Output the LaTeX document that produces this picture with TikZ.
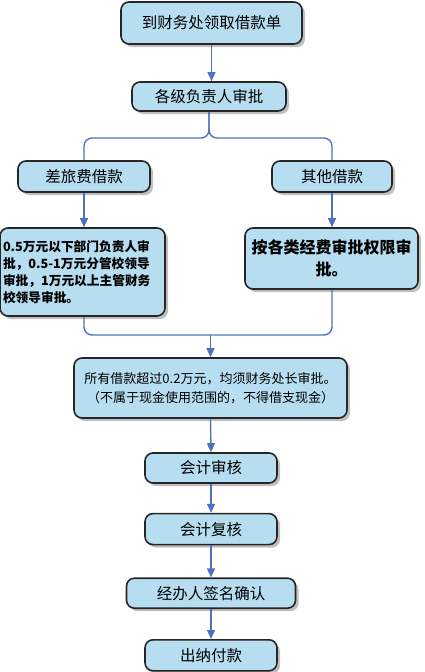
\documentclass[tikz,border=0pt]{standalone}
\usepackage{fontspec}
\setmainfont{Noto Sans CJK SC}
\usepackage{tikz}
\usetikzlibrary{arrows.meta,positioning,shadows}
\definecolor{boxfill}{RGB}{183,222,240}
\definecolor{flowblue}{RGB}{79,114,190}

\begin{document}
\begin{tikzpicture}[
        x=1pt, y=1pt,
        node distance=30pt,
        stepbox/.style={rectangle,rounded corners=8pt,draw=black!85,fill=boxfill,
                        line width=1.6pt,inner sep=2pt,
                        drop shadow={shadow xshift=3pt,shadow yshift=-3pt,
                                     fill=black!25,opacity=1},
                        font=\fontsize{15.5}{18}\selectfont},
        flow/.style={draw=flowblue,line width=1.4pt,
                     -{Triangle[length=9pt,width=8pt]}},
        link/.style={draw=flowblue,line width=1.4pt,rounded corners=8pt}
      ]
      \useasboundingbox (0,0) rectangle (424,-672);

      \node[stepbox,minimum width=181pt,minimum height=42pt] (apply) at (211.5,-23) {到财务处领取借款单};
      \node[stepbox,minimum width=154pt,minimum height=29pt] (sign) at (209,-96.5) {各级负责人审批};
      \node[stepbox,minimum width=132pt,minimum height=31pt] (travel) at (84,-176.5) {差旅费借款};
      \node[stepbox,minimum width=120pt,minimum height=31pt] (other) at (332,-176.5) {其他借款};
      \node[stepbox,minimum width=165pt,minimum height=88pt,text width=159pt,align=left,
            inner xsep=3pt,font=\fontsize{12.7}{17.2}\selectfont\bfseries]
            (travelrule) at (82.5,-272)
            {0.5万元以下部门负责人审\\批，0.5-1万元分管校领导\\审批，1万元以上主管财务\\校领导审批。};
      \node[stepbox,minimum width=173pt,minimum height=61pt,align=center,
            font=\fontsize{16}{22}\selectfont\bfseries]
            (otherrule) at (331.5,-258.5) {按各类经费审批权限审\\批。};
      \node[stepbox,minimum width=273pt,minimum height=60pt,align=center,
            font=\fontsize{13}{19}\selectfont]
            (chief) at (210.5,-388) {所有借款超过0.2万元，均须财务处长审批。\\（不属于现金使用范围的，不得借支现金）};
      \node[stepbox,minimum width=132pt,minimum height=30pt] (audit) at (211,-468) {会计审核};
      \node[stepbox,minimum width=132pt,minimum height=31pt] (review) [below=29pt of audit] {会计复核};
      \node[stepbox,minimum width=169pt,minimum height=30pt] (handler) [below=32pt of review] {经办人签名确认};
      \node[stepbox,minimum width=132pt,minimum height=31pt] (cashier) [below=30pt of handler] {出纳付款};

      % branch and merge points
      \coordinate (split) at (209,-138);
      \coordinate (join) at (210.5,-335);

      \draw[flow] (apply.south) -- (apply.south |- sign.north);
      \draw[link] (sign.south) -- (split) -| (travel.north);
      \draw[link] (sign.south) -- (split) -| (other.north);
      \draw[flow] (travel.south) -- (travelrule.north -| travel.south);
      \draw[flow] (other.south) -- (otherrule.north -| other.south);
      \draw[link] (travelrule.south -| travel.south) |- (join) -| (otherrule.south -| other.south);
      \draw[flow] (join) -- (chief.north);
      \draw[flow] (chief.south) -- (audit.north);
      \draw[flow] (audit) -- (review);
      \draw[flow] (review) -- (handler);
      \draw[flow] (handler) -- (cashier);
    \end{tikzpicture}
\end{document}
